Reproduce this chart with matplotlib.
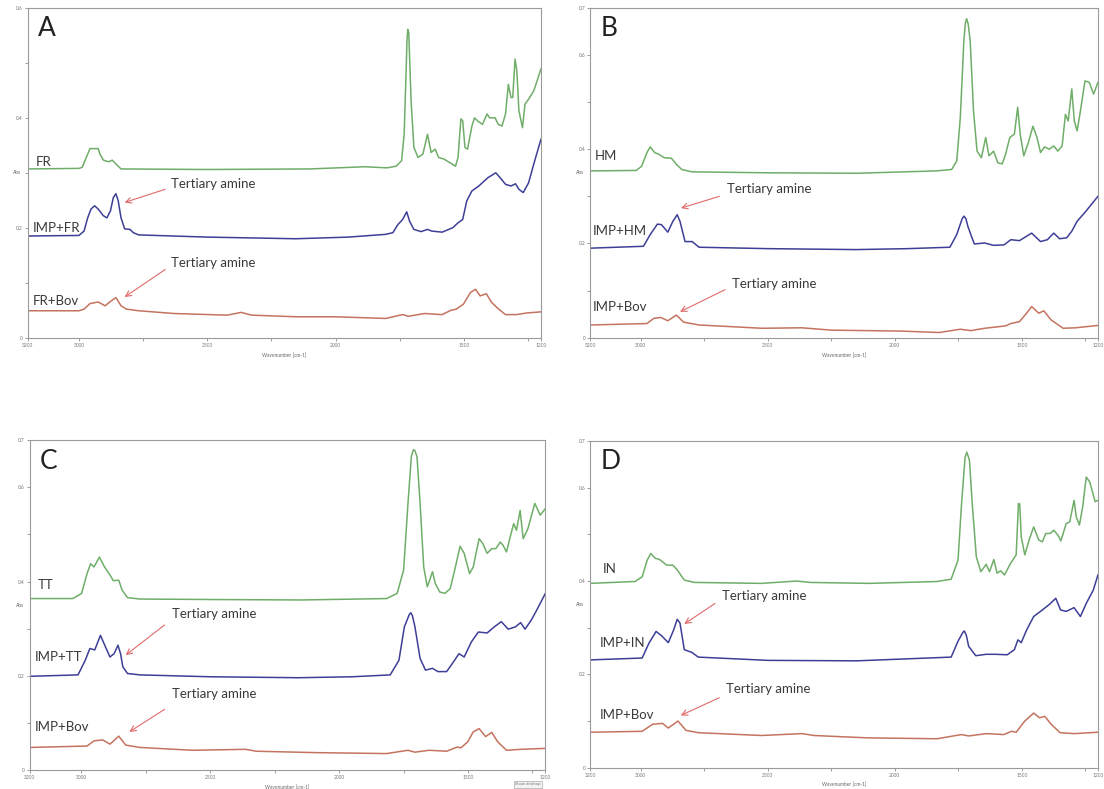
import matplotlib
matplotlib.use("Agg")
import matplotlib.pyplot as plt

plt.rcParams['font.family'] = ['Lato', 'DejaVu Sans']

# ---- panel A ----
a_fr_wn = [3200, 3000, 2987, 2966, 2957, 2925, 2918, 2905, 2884, 2870, 2856, 2836, 2500, 2100, 1887, 1800, 1764, 1743,
           1733, 1725, 1722, 1719, 1715, 1711, 1706, 1695, 1679, 1660, 1642, 1628, 1612, 1599, 1578, 1557, 1533, 1523,
           1512, 1505, 1496, 1486, 1469, 1459, 1446, 1428, 1410, 1400, 1379, 1366, 1352, 1338, 1327, 1317, 1310, 1301,
           1294, 1286, 1272, 1262, 1248, 1228, 1200]
a_fr_abs = [0.307, 0.308, 0.310, 0.334, 0.344, 0.344, 0.334, 0.323, 0.320, 0.323, 0.316, 0.307, 0.306, 0.307, 0.311,
            0.309, 0.312, 0.322, 0.370, 0.490, 0.540, 0.561, 0.555, 0.500, 0.431, 0.346, 0.328, 0.334, 0.370, 0.337,
            0.343, 0.328, 0.325, 0.319, 0.312, 0.328, 0.398, 0.395, 0.346, 0.343, 0.385, 0.400, 0.394, 0.388, 0.407,
            0.400, 0.400, 0.388, 0.385, 0.407, 0.461, 0.437, 0.437, 0.507, 0.486, 0.413, 0.382, 0.425, 0.434, 0.449,
            0.489]

a_imp_wn = [3200, 3000, 2980, 2966, 2953, 2939, 2925, 2905, 2891, 2877, 2866, 2856, 2847, 2836, 2822, 2801, 2788, 2767,
            2500, 2155, 1950, 1805, 1777, 1757, 1739, 1723, 1712, 1695, 1667, 1642, 1626, 1585, 1544, 1523, 1505, 1489,
            1469, 1442, 1407, 1376, 1359, 1338, 1317, 1299, 1286, 1269, 1248, 1228, 1200]
a_imp_abs = [0.185, 0.186, 0.194, 0.218, 0.234, 0.240, 0.234, 0.222, 0.218, 0.231, 0.255, 0.262, 0.249, 0.218, 0.198,
             0.197, 0.191, 0.187, 0.183, 0.180, 0.183, 0.188, 0.191, 0.206, 0.215, 0.229, 0.212, 0.197, 0.193, 0.197,
             0.194, 0.192, 0.200, 0.209, 0.215, 0.249, 0.267, 0.276, 0.291, 0.300, 0.291, 0.279, 0.276, 0.280, 0.270,
             0.264, 0.282, 0.316, 0.361]

a_bov_wn = [3200, 3000, 2980, 2957, 2925, 2898, 2874, 2856, 2836, 2815, 2767, 2630, 2423, 2368, 2327, 2149, 1997, 1805,
            1739, 1716, 1654, 1585, 1550, 1530, 1502, 1475, 1455, 1437, 1413, 1392, 1365, 1338, 1296, 1255, 1200]
a_bov_abs = [0.049, 0.049, 0.052, 0.062, 0.065, 0.058, 0.067, 0.073, 0.058, 0.052, 0.049, 0.044, 0.041, 0.046, 0.041,
             0.038, 0.038, 0.035, 0.042, 0.039, 0.044, 0.042, 0.050, 0.052, 0.061, 0.082, 0.088, 0.076, 0.080, 0.064,
             0.052, 0.042, 0.042, 0.045, 0.047]

# ---- panel B ----
b_hm_wn = [3200, 3018, 2997, 2976, 2963, 2946, 2928, 2908, 2880, 2860, 2839, 2798, 2500, 2150, 1838, 1776, 1756, 1742,
           1728, 1722, 1717, 1711, 1703, 1690, 1676, 1659, 1642, 1629, 1611, 1594, 1577, 1564, 1547, 1529, 1516, 1506,
           1492, 1474, 1456, 1440, 1426, 1410, 1392, 1374, 1358, 1341, 1328, 1317, 1303, 1293, 1282, 1269, 1251, 1234,
           1217, 1200]
b_hm_abs = [0.354, 0.355, 0.364, 0.393, 0.405, 0.393, 0.389, 0.382, 0.381, 0.368, 0.357, 0.352, 0.350, 0.349, 0.354,
            0.357, 0.375, 0.467, 0.630, 0.668, 0.677, 0.666, 0.630, 0.481, 0.396, 0.382, 0.425, 0.386, 0.396, 0.371,
            0.369, 0.389, 0.425, 0.432, 0.489, 0.432, 0.386, 0.414, 0.449, 0.425, 0.393, 0.405, 0.400, 0.407, 0.396,
            0.407, 0.474, 0.460, 0.528, 0.460, 0.439, 0.481, 0.545, 0.542, 0.517, 0.542]

b_imp_wn = [3200, 2990, 2963, 2935, 2919, 2894, 2874, 2857, 2846, 2826, 2798, 2771, 2500, 2153, 1950, 1783, 1756, 1735,
            1728, 1720, 1712, 1687, 1646, 1611, 1570, 1543, 1509, 1461, 1426, 1399, 1374, 1351, 1323, 1303, 1282, 1248,
            1200]
b_imp_abs = [0.190, 0.194, 0.219, 0.241, 0.240, 0.224, 0.247, 0.261, 0.247, 0.204, 0.204, 0.192, 0.189, 0.187, 0.189,
             0.192, 0.219, 0.252, 0.258, 0.253, 0.236, 0.199, 0.201, 0.196, 0.197, 0.208, 0.206, 0.222, 0.204, 0.208,
             0.222, 0.210, 0.212, 0.226, 0.247, 0.268, 0.300]

b_bov_wn = [3200, 2976, 2949, 2922, 2894, 2860, 2832, 2771, 2524, 2366, 2249, 1975, 1824, 1742, 1701, 1646, 1564, 1543,
            1509, 1481, 1461, 1433, 1413, 1385, 1337, 1289, 1200]
b_bov_abs = [0.027, 0.030, 0.041, 0.043, 0.036, 0.048, 0.033, 0.027, 0.020, 0.021, 0.016, 0.014, 0.011, 0.018, 0.015,
             0.020, 0.025, 0.030, 0.034, 0.052, 0.066, 0.052, 0.057, 0.038, 0.020, 0.021, 0.026]

# ---- panel C ----
c_tt_wn = [3200, 3033, 2999, 2978, 2964, 2951, 2930, 2910, 2889, 2876, 2855, 2842, 2821, 2773, 2500, 2150, 1816, 1775,
           1750, 1733, 1720, 1712, 1706, 1698, 1686, 1672, 1658, 1649, 1638, 1627, 1610, 1590, 1569, 1549, 1531, 1515,
           1494, 1480, 1457, 1443, 1426, 1408, 1392, 1375, 1364, 1351, 1335, 1323, 1312, 1298, 1286, 1268, 1241, 1220,
           1200]
c_tt_abs = [0.364, 0.364, 0.375, 0.417, 0.438, 0.431, 0.452, 0.431, 0.414, 0.402, 0.403, 0.382, 0.366, 0.363, 0.362,
            0.361, 0.364, 0.375, 0.424, 0.566, 0.665, 0.680, 0.678, 0.665, 0.566, 0.431, 0.389, 0.403, 0.421, 0.396,
            0.378, 0.375, 0.385, 0.431, 0.475, 0.460, 0.417, 0.431, 0.491, 0.481, 0.460, 0.470, 0.470, 0.484, 0.477,
            0.463, 0.498, 0.523, 0.509, 0.551, 0.491, 0.512, 0.566, 0.541, 0.555]

c_imp_wn = [3200, 3013, 2985, 2967, 2948, 2926, 2907, 2889, 2873, 2858, 2848, 2839, 2821, 2773, 2500, 2158, 1950, 1802,
            1768, 1747, 1728, 1722, 1716, 1706, 1686, 1665, 1638, 1617, 1583, 1556, 1535, 1515, 1487, 1460, 1426, 1398,
            1371, 1344, 1316, 1296, 1279, 1255, 1234, 1200]
c_imp_abs = [0.199, 0.202, 0.233, 0.258, 0.255, 0.286, 0.262, 0.240, 0.247, 0.265, 0.247, 0.219, 0.205, 0.202, 0.198,
             0.196, 0.198, 0.202, 0.233, 0.304, 0.330, 0.334, 0.328, 0.304, 0.237, 0.212, 0.216, 0.209, 0.209, 0.230,
             0.247, 0.240, 0.272, 0.293, 0.291, 0.304, 0.315, 0.299, 0.304, 0.313, 0.299, 0.318, 0.339, 0.375]

c_bov_wn = [3200, 2978, 2951, 2917, 2889, 2855, 2828, 2773, 2568, 2363, 2322, 2089, 1816, 1733, 1706, 1651, 1583, 1542,
            1528, 1501, 1480, 1457, 1432, 1408, 1385, 1351, 1296, 1200]
c_bov_abs = [0.048, 0.051, 0.062, 0.064, 0.055, 0.072, 0.053, 0.048, 0.042, 0.044, 0.040, 0.037, 0.035, 0.042, 0.038,
             0.042, 0.040, 0.049, 0.047, 0.060, 0.081, 0.088, 0.071, 0.080, 0.060, 0.042, 0.044, 0.046]

# ---- panel D ----
d_in_wn = [3200, 3023, 2995, 2975, 2961, 2944, 2926, 2898, 2874, 2857, 2829, 2788, 2525, 2387, 2331, 2100, 1834, 1778,
           1751, 1737, 1723, 1716, 1706, 1695, 1679, 1661, 1640, 1627, 1610, 1597, 1583, 1568, 1544, 1522, 1513, 1508,
           1502, 1488, 1471, 1453, 1433, 1419, 1405, 1388, 1374, 1357, 1346, 1325, 1311, 1294, 1285, 1273, 1260, 1246,
           1232, 1211, 1200]
d_in_abs = [0.395, 0.399, 0.409, 0.445, 0.459, 0.449, 0.446, 0.434, 0.434, 0.424, 0.402, 0.397, 0.395, 0.400, 0.397,
            0.395, 0.399, 0.404, 0.445, 0.566, 0.666, 0.676, 0.659, 0.566, 0.452, 0.420, 0.436, 0.420, 0.446, 0.417,
            0.422, 0.413, 0.438, 0.456, 0.566, 0.565, 0.495, 0.456, 0.488, 0.516, 0.488, 0.484, 0.502, 0.502, 0.509,
            0.498, 0.486, 0.523, 0.527, 0.573, 0.537, 0.520, 0.559, 0.623, 0.612, 0.570, 0.573]

d_imp_wn = [3200, 2995, 2968, 2940, 2919, 2892, 2871, 2857, 2846, 2829, 2799, 2774, 2500, 2150, 1778, 1751, 1732, 1726,
            1718, 1709, 1681, 1640, 1605, 1557, 1529, 1515, 1502, 1481, 1453, 1419, 1391, 1366, 1347, 1325, 1294, 1269,
            1246, 1218, 1200]
d_imp_abs = [0.231, 0.235, 0.267, 0.292, 0.283, 0.268, 0.295, 0.318, 0.310, 0.253, 0.247, 0.237, 0.230, 0.229, 0.237,
             0.271, 0.290, 0.293, 0.283, 0.260, 0.240, 0.243, 0.243, 0.242, 0.253, 0.274, 0.268, 0.295, 0.324, 0.338,
             0.350, 0.363, 0.338, 0.335, 0.343, 0.324, 0.352, 0.381, 0.413]

d_bov_wn = [3200, 2995, 2954, 2915, 2892, 2854, 2822, 2774, 2525, 2366, 2318, 2110, 1834, 1737, 1709, 1640, 1571, 1540,
            1522, 1488, 1453, 1430, 1409, 1384, 1349, 1294, 1200]
d_bov_abs = [0.076, 0.078, 0.093, 0.095, 0.085, 0.100, 0.080, 0.075, 0.069, 0.073, 0.069, 0.064, 0.062, 0.071, 0.068,
             0.073, 0.071, 0.078, 0.076, 0.100, 0.117, 0.107, 0.110, 0.093, 0.075, 0.073, 0.076]

letters = ['A', 'B', 'C', 'D']
top_labels = ['FR', 'HM', 'TT', 'IN']
mid_labels = ['IMP+FR', 'IMP+HM', 'IMP+TT', 'IMP+IN']
low_labels = ['FR+Bov', 'IMP+Bov', 'IMP+Bov', 'IMP+Bov']

green = '#6fae68'
blue = '#3d3f97'
red = '#c4735f'
arrow_red = '#e06a6a'
txt = '#3a3a3a'

fig = plt.figure(figsize=(11.04, 7.89), dpi=100)

# axes rectangles (left, bottom, width, height) in figure fraction
rects = [
    [0.025, 0.572, 0.465, 0.418],
    [0.5345, 0.572, 0.460, 0.418],
    [0.027, 0.024, 0.467, 0.418],
    [0.5345, 0.027, 0.460, 0.414],
]
ytops = [0.6, 0.7, 0.7, 0.7]

curves = [
    [(a_fr_wn, a_fr_abs), (a_imp_wn, a_imp_abs), (a_bov_wn, a_bov_abs)],
    [(b_hm_wn, b_hm_abs), (b_imp_wn, b_imp_abs), (b_bov_wn, b_bov_abs)],
    [(c_tt_wn, c_tt_abs), (c_imp_wn, c_imp_abs), (c_bov_wn, c_bov_abs)],
    [(d_in_wn, d_in_abs), (d_imp_wn, d_imp_abs), (d_bov_wn, d_bov_abs)],
]
# label y positions (abs units) for the three curve names
label_y = [(0.320, 0.200, 0.067), (0.386, 0.226, 0.066), (0.392, 0.240, 0.092), (0.425, 0.268, 0.112)]
label_x = [3170, 3180, 3170, 3150]
# tertiary amine annotations: text pos, arrow start, arrow tip
amine = [
    [((2643, 0.279), (2664, 0.270), (2822, 0.246)), ((2643, 0.135), (2664, 0.124), (2822, 0.074))],
    [((2661, 0.315), (2691, 0.300), (2842, 0.275)), ((2640, 0.114), (2668, 0.102), (2846, 0.055))],
    [((2650, 0.332), (2677, 0.308), (2828, 0.244)), ((2650, 0.161), (2677, 0.129), (2814, 0.081))],
    [((2680, 0.368), (2708, 0.352), (2829, 0.308)), ((2663, 0.169), (2691, 0.150), (2843, 0.112))],
]

for i in range(4):
    ax = fig.add_axes(rects[i])
    (w1, y1), (w2, y2), (w3, y3) = curves[i]
    ax.plot(w1, y1, color=green, lw=1.1)
    ax.plot(w2, y2, color=blue, lw=1.1)
    ax.plot(w3, y3, color=red, lw=1.1)

    ax.set_xlim(3200, 1200)
    ax.set_ylim(0, ytops[i])
    ax.set_xticks([3200, 3000, 2500, 2000, 1500, 1200])
    ax.set_xticks([2750, 2250, 1750, 1250], minor=True)
    if ytops[i] == 0.6:
        ax.set_yticks([0, 0.2, 0.4, 0.6])
        ax.set_yticklabels(['0', '0.2', '0.4', '0.6'])
    else:
        ax.set_yticks([0, 0.2, 0.4, 0.6, 0.7])
        ax.set_yticklabels(['0', '0.2', '0.4', '0.6', '0.7'])
    ax.set_yticks([0.1, 0.3, 0.5], minor=True)
    ax.tick_params(which='both', labelsize=3.5, colors='#777777', length=2, width=0.5, pad=1.5)
    for s in ax.spines.values():
        s.set_color('#9a9a9a')
        s.set_linewidth(0.8)
    ax.text(-0.012, 0.5, 'Abs', transform=ax.transAxes, fontsize=3.5, color='#666666', ha='right', va='center')
    ax.text(0.5, -0.045, 'Wavenumber [cm-1]', transform=ax.transAxes, fontsize=3.5, color='#666666',
            ha='center', va='top')

    ax.text(0.02, 0.975, letters[i], transform=ax.transAxes, fontsize=19, color='#222222', ha='left', va='top')

    ax.text(label_x[i], label_y[i][0], top_labels[i], fontsize=9.5, color=txt, ha='left', va='center')
    ax.text(label_x[i] + 10, label_y[i][1], mid_labels[i], fontsize=9.5, color=txt, ha='left', va='center')
    ax.text(label_x[i] + 10, label_y[i][2], low_labels[i], fontsize=9.5, color=txt, ha='left', va='center')

    for (tpos, start, tip) in amine[i]:
        ax.text(tpos[0], tpos[1], 'Tertiary amine', fontsize=9.5, color=txt, ha='left', va='center')
        ax.annotate('', xy=tip, xytext=start,
                    arrowprops=dict(arrowstyle='->', color=arrow_red, lw=0.8, shrinkA=0, shrinkB=0))

# small leftover button from the screenshot
fig.text(0.478, 0.006, 'Show desktop', fontsize=3, color='#777777', ha='center', va='center',
         bbox=dict(boxstyle='square,pad=0.3', fc='#f4f4f4', ec='#aaaaaa', lw=0.5))

fig.savefig('out.png', dpi=100)
